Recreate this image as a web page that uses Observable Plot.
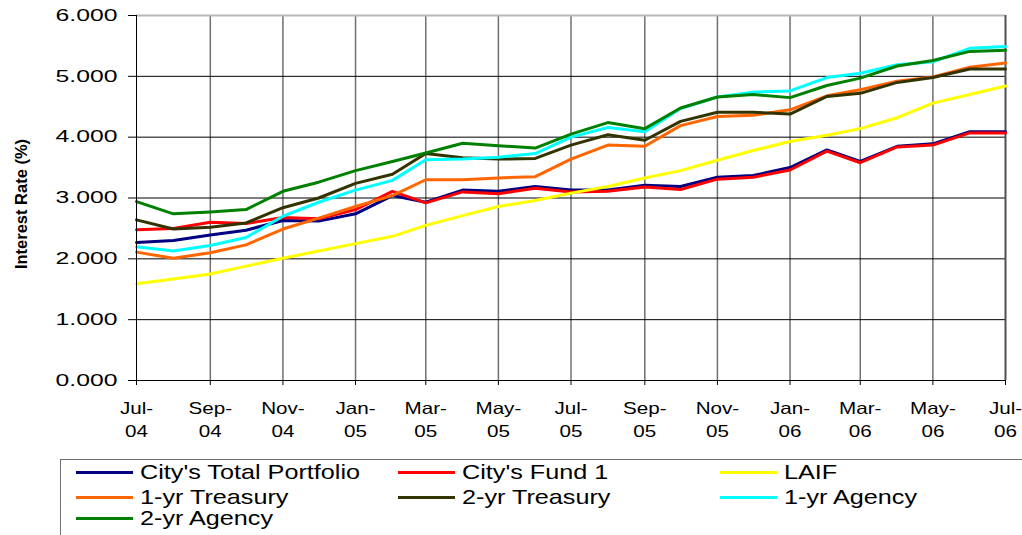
<!DOCTYPE html>
<html><head><meta charset="utf-8">
<script src="https://cdn.jsdelivr.net/npm/d3@7"></script>
<script src="https://cdn.jsdelivr.net/npm/@observablehq/plot@0.6"></script>
<style>
body{margin:0;background:#fff;overflow:hidden;font-family:"Liberation Sans",Arial,sans-serif;}
#wrap{position:relative;width:1022px;height:535px;overflow:hidden;background:#fff;}
#legend{position:absolute;left:60px;top:459px;width:1100px;height:120px;border:1px solid #707070;box-sizing:border-box;}
.item{position:absolute;height:20px;display:flex;align-items:center;font-size:21px;color:#000;white-space:nowrap}
.sw{display:inline-block;width:57px;height:3px;margin-right:7px}
.lab{display:inline-block;transform:scaleX(1.2);transform-origin:left center}
</style></head><body><div id="wrap"></div>
<script>
const months = ["Jul-04","Aug-04","Sep-04","Oct-04","Nov-04","Dec-04","Jan-05","Feb-05","Mar-05","Apr-05","May-05","Jun-05","Jul-05","Aug-05","Sep-05","Oct-05","Nov-05","Dec-05","Jan-06","Feb-06","Mar-06","Apr-06","May-06","Jun-06","Jul-06"];
const tickMonths = ["Jul-04","Sep-04","Nov-04","Jan-05","Mar-05","May-05","Jul-05","Sep-05","Nov-05","Jan-06","Mar-06","May-06","Jul-06"];
const yTicks = [0,1,2,3,4,5,6];
const seriesNames = ["City's Total Portfolio","City's Fund 1","LAIF","1-yr Treasury","2-yr Treasury","1-yr Agency","2-yr Agency"];
const seriesColors = ["#000080","#ff0000","#ffff00","#ff6600","#333300","#00ffff","#008000"];

const totalPortfolio = [2.27,2.30,2.39,2.47,2.63,2.62,2.74,3.04,2.93,3.13,3.11,3.19,3.13,3.13,3.21,3.19,3.34,3.37,3.50,3.79,3.60,3.85,3.89,4.09,4.09];
const fund1 = [2.48,2.50,2.60,2.58,2.68,2.66,2.81,3.11,2.92,3.10,3.07,3.16,3.10,3.11,3.18,3.14,3.31,3.34,3.46,3.77,3.58,3.84,3.87,4.07,4.07];
const laif = [1.59,1.67,1.75,1.88,2.01,2.13,2.25,2.37,2.55,2.71,2.86,2.96,3.08,3.19,3.33,3.45,3.62,3.78,3.93,4.03,4.14,4.32,4.56,4.70,4.84];
const treasury1 = [2.11,2.01,2.10,2.23,2.49,2.67,2.86,3.04,3.30,3.30,3.33,3.35,3.64,3.87,3.85,4.19,4.34,4.36,4.45,4.68,4.78,4.92,4.99,5.15,5.22];
const treasury2 = [2.64,2.49,2.52,2.59,2.84,3.00,3.24,3.39,3.73,3.66,3.64,3.65,3.87,4.04,3.95,4.26,4.41,4.41,4.38,4.67,4.72,4.90,4.98,5.12,5.12];
const agency1 = [2.20,2.13,2.22,2.35,2.70,2.93,3.13,3.29,3.63,3.64,3.67,3.73,4.00,4.16,4.09,4.47,4.66,4.74,4.76,4.98,5.05,5.19,5.24,5.46,5.49];
const agency2 = [2.94,2.74,2.77,2.81,3.11,3.26,3.45,3.60,3.74,3.90,3.86,3.82,4.05,4.24,4.14,4.48,4.66,4.70,4.65,4.85,4.97,5.17,5.26,5.41,5.43];
const seriesValues = [totalPortfolio,fund1,laif,treasury1,treasury2,agency1,agency2];

const parse = d3.utcParse("%b-%y");
const dates = months.map(parse);
const ticks = tickMonths.map(parse);
const data = seriesNames.flatMap((s,k)=>seriesValues[k].map((v,i)=>({date:dates[i], value:v, series:s})));
const fmtM = d3.utcFormat("%b"), fmtY = d3.utcFormat("%y");

const chart = Plot.plot({
  width:1022, height:459, marginTop:15, marginBottom:79, marginLeft:136, marginRight:17,
  style:{fontFamily:"'Liberation Sans', Arial, sans-serif", background:"#fff", overflow:"visible", color:"#000"},
  x:{type:"utc", domain:[dates[0], dates[dates.length-1]]},
  y:{domain:[0,6]},
  color:{domain:seriesNames, range:seriesColors},
  marks:[
    Plot.gridX(ticks.slice(1,-1), {stroke:"#707070", strokeOpacity:1, strokeWidth:1.5}),
    Plot.gridY(yTicks.slice(1,-1), {stroke:"#000", strokeOpacity:1, strokeWidth:1}),
    Plot.ruleY([yTicks[yTicks.length-1]], {stroke:"#b8b8b8", strokeWidth:2}),
    Plot.ruleX([dates[dates.length-1]], {stroke:"#505050", strokeWidth:2}),
    Plot.line(data, {x:"date", y:"value", z:"series", stroke:"series", strokeWidth:3}),
    Plot.ruleX([dates[0]], {stroke:"#000", strokeWidth:1}),
    Plot.ruleY([0], {stroke:"#000", strokeWidth:1}),
    Plot.axisY({ticks:yTicks, tickSize:8, tickPadding:11, tickFormat:d3.format(".3f"), fontSize:16.5, label:null}),
    Plot.axisX({ticks, tickSize:5, tickPadding:13, tickFormat:d=>fmtM(d)+"-\n"+fmtY(d), fontSize:16.5, lineHeight:1.35, label:null}),
    Plot.text(["Interest Rate (%)"], {frameAnchor:"left", textAnchor:"middle", rotate:-90, dx:-115, dy:6, fontWeight:"bold", fontSize:16.5, ariaLabel:"y-title"})
  ]
});

function stretch(sel, s){
  chart.querySelectorAll(sel).forEach(t=>{
    const tr = t.getAttribute("transform") || "";
    t.setAttribute("transform", tr + ` scale(${s},1)`);
  });
}
stretch('g[aria-label="y-axis tick label"] text', 1.5);
stretch('g[aria-label="x-axis tick label"] text', 1.25);
stretch('g[aria-label="y-title"] text', 1.05);

const wrap = document.getElementById("wrap");
wrap.appendChild(chart);

const legend = document.createElement("div");
legend.id = "legend";
const colLeft = [15,337,659];
const rowTop = [2,27,48];
seriesNames.forEach((s,i)=>{
  const it = document.createElement("div");
  it.className = "item";
  it.style.left = colLeft[i%3]+"px";
  it.style.top = rowTop[Math.floor(i/3)]+"px";
  const sw = document.createElement("span"); sw.className="sw"; sw.style.background = seriesColors[i];
  const lb = document.createElement("span"); lb.className="lab"; lb.textContent = s;
  it.appendChild(sw); it.appendChild(lb);
  legend.appendChild(it);
});
wrap.appendChild(legend);
</script></body></html>
